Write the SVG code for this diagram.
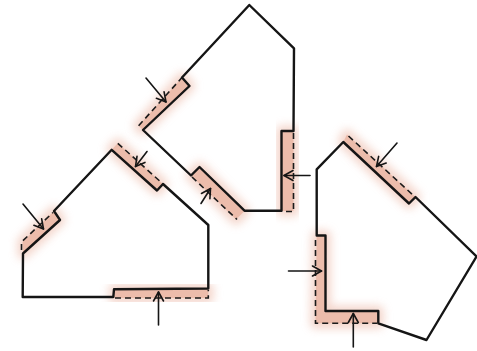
<svg xmlns="http://www.w3.org/2000/svg" width="477" height="351" viewBox="0 0 477 351">
  <style>
    .outline { fill: none; stroke: #151515; stroke-width: 2.4; stroke-linejoin: round; stroke-linecap: round; }
    .dash { fill: none; stroke: #1a1a1a; stroke-width: 1.6; stroke-dasharray: 6 4; stroke-linecap: butt; }
    .band { fill: #ecbcab; stroke: none; }
    .glow { fill: #f0c6b8; stroke: #f0c6b8; stroke-width: 11; stroke-linejoin: round; opacity: 0.7; filter: url(#blur); }
    .arrow { fill: none; stroke: #151515; stroke-width: 1.6; stroke-linecap: round; marker-end: url(#head); }
  </style>
  <defs>
    <filter id="blur" x="-40%" y="-40%" width="180%" height="180%">
      <feGaussianBlur stdDeviation="4.5"/>
    </filter>
    <marker id="head" markerUnits="userSpaceOnUse" markerWidth="16" markerHeight="16" viewBox="-11 -8 13 16" refX="0" refY="0" orient="auto">
      <path d="M -9,-5 L 0,0 L -9,5" fill="none" stroke="#151515" stroke-width="1.6" stroke-linecap="round" stroke-linejoin="round"/>
    </marker>
  </defs>
  <rect width="477" height="351" fill="#ffffff"/>

  <!-- Left shape -->
  <g id="shape-left">
    <polygon class="glow" points="23,254 60,220 54,211 22.5,242"/>
    <polygon class="glow" points="111.7,149.8 117.8,143.3 163,184 157,190.5"/>
    <polygon class="glow" points="114,289.3 208.3,288.5 208.3,298 114,298"/>
    <polygon class="band" points="23,254 60,220 54,211 22.5,242"/>
    <polygon class="band" points="111.7,149.8 117.8,143.3 163,184 157,190.5"/>
    <polygon class="band" points="114,289.3 208.3,288.5 208.3,298 114,298"/>
    <path class="dash" d="M 21.5,250 L 21.5,242 L 53,212.5"/>
    <path class="dash" d="M 117.8,143.3 L 163,184"/>
    <path class="dash" d="M 115,298 L 208.3,298 L 208.3,290"/>
    <path class="outline" d="M 22.7,297 L 113.3,297 L 114,289.3 L 208.3,288.5 L 208.3,225 L 163,184 L 157,190.5 L 111.7,149.8 L 54,211 L 60,220 L 23,253.5 Z"/>
  </g>

  <!-- Middle shape -->
  <g id="shape-middle">
    <polygon class="glow" points="143,130 138.6,125.8 182,77.5 189.5,86"/>
    <polygon class="glow" points="199.5,167 191,175.5 236,219.5 244.5,211"/>
    <polygon class="glow" points="281.5,131 293.5,131 293.5,211 281.5,211"/>
    <polygon class="band" points="143,130 138.6,125.8 182,77.5 189.5,86"/>
    <polygon class="band" points="199.5,167 191,175.5 236,219.5 244.5,211"/>
    <polygon class="band" points="281.5,131 293.5,131 293.5,211 281.5,211"/>
    <path class="dash" d="M 138.6,125.8 L 182,77.5"/>
    <path class="dash" d="M 192,177 L 237,219.5"/>
    <path class="dash" d="M 293.5,133 L 293.5,211.5 L 282,211.5"/>
    <path class="outline" d="M 249.3,5 L 294,48.3 L 293.5,131 L 281.5,131 L 281.5,210.7 L 244.5,210.7 L 199.5,167 L 191,175.5 L 143,130 L 189.5,86 L 182,77.5 Z"/>
  </g>

  <!-- Right shape -->
  <g id="shape-right">
    <polygon class="glow" points="343.3,142 347,134.5 415.5,197 409,203.5"/>
    <polygon class="glow" points="316.7,235.5 325.5,235.5 325.5,311 378.3,311 378.3,323.3 315.5,323.3"/>
    <polygon class="band" points="343.3,142 347,134.5 415.5,197 409,203.5"/>
    <polygon class="band" points="316.7,235.5 325.5,235.5 325.5,311 378.3,311 378.3,323.3 315.5,323.3"/>
    <path class="dash" d="M 348.5,136 L 413.5,195.5"/>
    <path class="dash" d="M 315.5,240 L 315.5,323.3 L 377,323.3"/>
    <path class="outline" d="M 343.3,142 L 409,203.5 L 415.5,197 L 476.5,256.5 L 426.5,340 L 378.3,323.3 L 378.3,311 L 325.5,311 L 325.5,235.5 L 316.7,235.5 L 316.7,169.3 Z"/>
  </g>

  <!-- Arrows -->
  <g id="connectors">
    <path class="arrow" d="M 23,204 L 43.5,229"/>
    <path class="arrow" d="M 147,151.5 L 135.5,166.5"/>
    <path class="arrow" d="M 158.5,325 L 158.5,292"/>
    <path class="arrow" d="M 146,78 L 166,102"/>
    <path class="arrow" d="M 201,203.5 L 210.5,188.5"/>
    <path class="arrow" d="M 310,175.5 L 284,175.5"/>
    <path class="arrow" d="M 397,143 L 376.5,166.5"/>
    <path class="arrow" d="M 288.5,271 L 321.5,271"/>
    <path class="arrow" d="M 353.3,347 L 353.3,313.5"/>
  </g>
</svg>
